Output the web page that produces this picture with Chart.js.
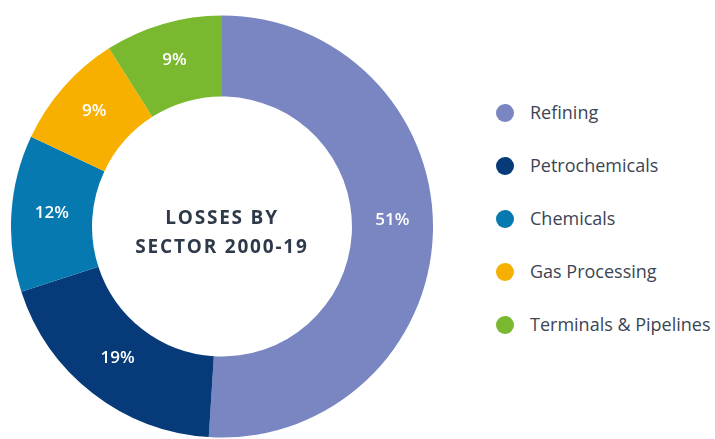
<!DOCTYPE html>
<html>
<head>
<meta charset="utf-8">
<script src="https://cdn.jsdelivr.net/npm/chart.js@4"></script>
<style>
    body { margin: 0; background: #fff; font-family: "Open Sans", sans-serif; }
    #wrap { position: relative; width: 715px; height: 439px; overflow: hidden; }
    #chartBox { position: absolute; left: 11px; top: 15px; width: 422px; height: 423px; }
    #centerText {
        position: absolute; left: 72px; width: 300px; top: 203px;
        text-align: center; color: #2e3a4a; font-weight: 700; font-size: 19px;
        letter-spacing: 1.8px; line-height: 29px;
    }
    #legend { position: absolute; left: 496px; top: 99px; }
    .item { display: flex; align-items: center; height: 53px; font-size: 18px; color: #3b4554; }
    .dot { width: 18px; height: 18px; border-radius: 50%; margin-right: 16px; margin-top: -26px; }
    .item span { margin-top: -27px; }
</style>
</head>
<body>
<div id="wrap">
    <div id="chartBox"><canvas id="chart"></canvas></div>
    <div id="centerText">LOSSES BY<br>SECTOR 2000-19</div>
    <div id="legend"></div>
</div>
<script>
const sectors = ['Refining', 'Petrochemicals', 'Chemicals', 'Gas Processing', 'Terminals & Pipelines'];
const shares = [51, 19, 12, 9, 9];
const colors = ['#7986c2', '#063a79', '#0679b0', '#f8b000', '#7ab92f'];

document.addEventListener('DOMContentLoaded', () => {
    const legend = document.getElementById('legend');
    sectors.forEach((name, i) => {
        const row = document.createElement('div');
        row.className = 'item';
        row.innerHTML = `<div class="dot" style="background:${colors[i]}"></div><span>${name}</span>`;
        legend.appendChild(row);
    });

    // percentage text in the middle of each ring segment
    const sliceLabels = {
        id: 'sliceLabels',
        afterDatasetsDraw(chart) {
            const ctx = chart.ctx;
            const meta = chart.getDatasetMeta(0);
            ctx.save();
            ctx.fillStyle = '#fff';
            ctx.font = '600 17px "Open Sans"';
            ctx.textAlign = 'center';
            ctx.textBaseline = 'middle';
            meta.data.forEach((arc, i) => {
                const p = arc.getCenterPoint();
                // the big slice label sits level with the left side labels
                const y = shares[i] > 50 ? p.y - 12 : p.y - 3;
                ctx.fillText(shares[i] + '%', p.x, y);
            });
            ctx.restore();
        }
    };

    new Chart(document.getElementById('chart'), {
        type: 'doughnut',
        data: {
            labels: sectors,
            datasets: [{
                data: shares,
                backgroundColor: colors,
                borderWidth: 0,
                hoverOffset: 0,
                offset: 0
            }]
        },
        options: {
            responsive: true,
            maintainAspectRatio: false,
            animation: false,
            cutout: '61.6%',
            layout: { padding: 0 },
            plugins: {
                legend: { display: false },
                tooltip: { enabled: false }
            }
        },
        plugins: [sliceLabels]
    });
});
</script>
</body>
</html>
